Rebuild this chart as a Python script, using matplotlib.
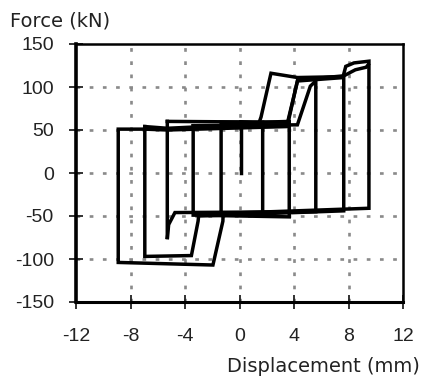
import matplotlib
matplotlib.use("Agg")
import matplotlib.pyplot as plt

plt.rcParams['font.family'] = ['Liberation Sans', 'DejaVu Sans']
plt.rcParams['axes.unicode_minus'] = False

# ---- data (displacement mm, force kN) ----
start_x = [0.1, 0.1]
start_y = [0, 59]

loop1_x = [0.1, 1.7, 1.7, -1.35, -1.35, 1.7]
loop1_y = [59, 58, -48, -47, 59, 59]

loop2_x = [1.7, 3.65, 3.65, -3.4, -3.4]
loop2_y = [59, 60, -51, -49, 55]

loop3_x = [-3.4, 4.25, 5.2, 5.6, 5.6, -4.74, -5.2, -5.3, -5.3]
loop3_y = [55, 56, 101, 107, -45, -46, -60, -77, 60]

loop4_x = [-5.3, 3.53, 4.26, 7.65, 7.65, -3.0, -3.04, -3.53, -6.95, -6.95]
loop4_y = [60, 59, 107, 111, -44, -50, -56, -96, -97, 54]

loop5_x = [-6.95, -5.3, 1.4, 1.58, 2.31, 4.26, 7.6, 7.8, 8.4, 9.5, 9.5,
           -1.2, -1.22, -1.95, -8.9, -8.9, -6.95]
loop5_y = [54, 52, 57, 65, 116, 111, 112, 124, 128, 130, -41,
           -47, -56, -107, -104, 51, 51]

loop6_x = [-6.95, -5.3, 3.5, 4.26, 7.66, 8.5, 9.3, 9.45]
loop6_y = [51, 50, 54, 108, 113, 120, 123, 126]

loops = [(start_x, start_y), (loop1_x, loop1_y), (loop2_x, loop2_y),
         (loop3_x, loop3_y), (loop4_x, loop4_y), (loop5_x, loop5_y),
         (loop6_x, loop6_y)]

x_ticks = [-12, -8, -4, 0, 4, 8, 12]
y_ticks = [-150, -100, -50, 0, 50, 100, 150]

fig = plt.figure(figsize=(4.25, 3.81), dpi=100)
ax = fig.add_axes([76/425, 1-302/381, (403-76)/425, (302-44)/381])

for gx in x_ticks[1:-1]:
    ax.axvline(gx, color='#8a8a8a', lw=1.9, dashes=(1.4, 3.6), zorder=1)
for gy in y_ticks[1:-1]:
    ax.axhline(gy, color='#8a8a8a', lw=1.9, dashes=(1.4, 3.6), zorder=1)

for lx, ly in loops:
    ax.plot(lx, ly, color='black', lw=2.5, solid_joinstyle='miter', zorder=3)

ax.set_xlim(-12, 12)
ax.set_ylim(-150, 150)
ax.set_xticks(x_ticks)
ax.set_yticks(y_ticks)
ax.set_xticklabels([str(v) for v in x_ticks])
ax.set_yticklabels([str(v) for v in y_ticks])

ax.tick_params(axis='x', direction='inout', length=10, width=1.3,
               labelsize=14, pad=14, colors='#222222')
ax.tick_params(axis='y', direction='inout', length=10, width=1.3,
               labelsize=14, pad=11, colors='#222222')

ax.spines['left'].set_linewidth(2.6)
ax.spines['bottom'].set_linewidth(2.2)
ax.spines['top'].set_linewidth(1.8)
ax.spines['right'].set_linewidth(1.8)
for s in ax.spines.values():
    s.set_color('black')

fig.text(10/425, 1-21/381, 'Force (kN)', ha='left', va='center',
         fontsize=14, color='#222222', family='DejaVu Sans')
fig.text(420/425, 1-367/381, 'Displacement (mm)', ha='right', va='center',
         fontsize=14, color='#222222', family='DejaVu Sans')

fig.savefig('out.png', dpi=100)
